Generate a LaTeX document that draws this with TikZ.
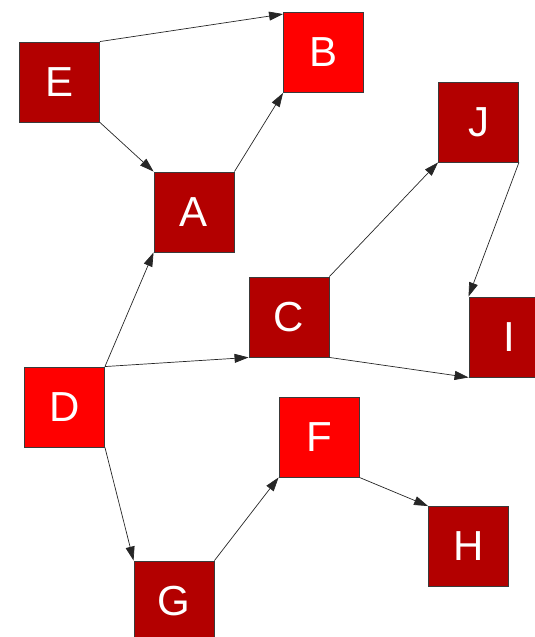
\documentclass[tikz,border=0pt]{standalone}
\usepackage{fontspec}
\setmainfont{Liberation Sans}
\usepackage{tikz}
\usetikzlibrary{arrows.meta}
\definecolor{darkred}{HTML}{B30000}
\definecolor{brightred}{HTML}{FF0000}
\definecolor{edgeline}{HTML}{3A3A3A}

\begin{document}
\begin{tikzpicture}[x=1pt,y=-1pt,font=\fontsize{42}{42}\selectfont,>={Triangle[length=14pt,width=9pt]}]
\tikzset{box/.style={draw=edgeline,line width=0.9pt,minimum size=80pt,inner sep=0pt,text=white}, darkbox/.style={box,fill=darkred}, brightbox/.style={box,fill=brightred}, arr/.style={->,draw=black!85,line width=0.7pt}}
\useasboundingbox (0,0) rectangle (535,637);
\node[darkbox] (E) at (59.5,82) {E};
\node[brightbox] (B) at (323.5,52.5) {B};
\node[darkbox] (A) at (194,212) {A};
\node[darkbox] (J) at (478.5,122) {J};
\node[darkbox] (C) at (289,317) {C};
\node[darkbox] (I) at (509,337) {I};
\node[brightbox] (D) at (64.5,407) {D};
\node[brightbox] (F) at (319,437) {F};
\node[darkbox] (H) at (468.5,546.5) {H};
\node[darkbox] (G) at (174,601) {G};
\draw[arr] (E.north east) -- ([yshift=-2pt]B.north west);
\draw[arr] (E.south east) -- (A.north west);
\draw[arr] (A.north east) -- (B.south west);
\draw[arr] (D.north east) -- (A.south west);
\draw[arr] (D.north east) -- (C.south west);
\draw[arr] (D.south east) -- (G.north west);
\draw[arr] (G.north east) -- (F.south west);
\draw[arr] (F.south east) -- (H.north west);
\draw[arr] (C.north east) -- (J.south west);
\draw[arr] (J.south east) -- (I.north west);
\draw[arr] (C.south east) -- (I.south west);
\end{tikzpicture}
\end{document}
